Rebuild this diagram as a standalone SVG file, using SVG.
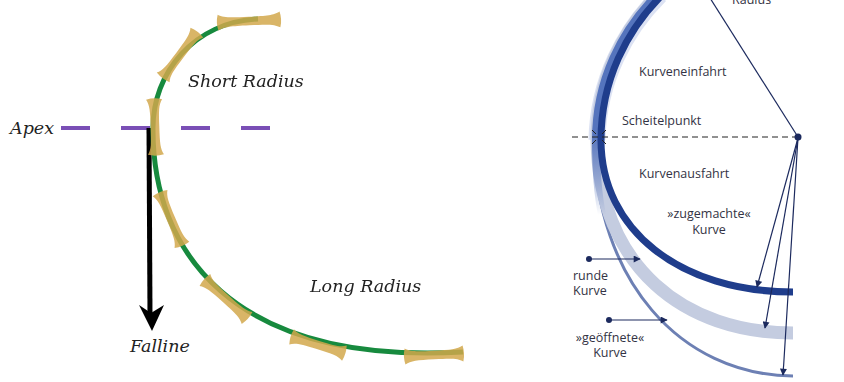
<svg xmlns="http://www.w3.org/2000/svg" xmlns:xlink="http://www.w3.org/1999/xlink" width="844" height="382" viewBox="0 0 844 382">
<style>
.serif{font-family:"DejaVu Serif","Liberation Serif",serif;font-style:italic;font-size:17.5px;fill:#222}
.sans{font-family:"Open Sans","Liberation Sans",sans-serif;font-size:12.5px;fill:#333344}
.bone{fill:#d2a84c;opacity:0.85}
.ptr{stroke:#1c2a5e;stroke-width:1.2;fill:none}
</style>
<defs>
<path id="bone" d="M -20 -8 C -16 -4.5 -12 -4.3 0 -4.3 C 12 -4.3 16 -4.5 20 -8 Q 21.5 0 20 8 C 16 4.5 12 4.3 0 4.3 C -12 4.3 -16 4.5 -20 8 Q -21.5 0 -20 -8 Z"/>
<marker id="ah" viewBox="0 0 10 10" refX="9" refY="5" markerWidth="8" markerHeight="7" markerUnits="userSpaceOnUse" orient="auto">
<path d="M0 0 L10 5 L0 10 Z" fill="#1c2a5e"/>
</marker>
<linearGradient id="fade" gradientUnits="userSpaceOnUse" x1="0" y1="0" x2="0" y2="215">
<stop offset="0.62" stop-color="#5574bd" stop-opacity="1"/>
<stop offset="1" stop-color="#5574bd" stop-opacity="0"/>
</linearGradient>
</defs>

<g id="left-diagram">
<g id="apex-line">
<line x1="61" y1="128" x2="272" y2="128" stroke="#7a4fb6" stroke-width="4" stroke-dasharray="29 31"/>
<text class="serif" x="10" y="134">Apex</text>
</g>
<g id="falline">
<line x1="149" y1="128" x2="150" y2="314" stroke="#000" stroke-width="5"/>
<path d="M152 331 L139 305 L151 313 L164 305 Z" fill="#000"/>
<text class="serif" x="130" y="352">Falline</text>
</g>
<g id="track">
<path d="M258 19 C195 22 152 72 153 130 C153 250 230 365 463 352" fill="none" stroke="#178a3e" stroke-width="5"/>
<g class="bone">
<use xlink:href="#bone" transform="translate(249,21) rotate(-3) scale(1.55,1)"/>
<use xlink:href="#bone" transform="translate(180,55) rotate(127) scale(1.4,1)"/>
<use xlink:href="#bone" transform="translate(155,127) rotate(88) scale(1.38,1)"/>
<use xlink:href="#bone" transform="translate(171,219) rotate(67) scale(1.4,1)"/>
<use xlink:href="#bone" transform="translate(226,299) rotate(42) scale(1.42,1)"/>
<use xlink:href="#bone" transform="translate(318,345) rotate(17) scale(1.38,1)"/>
<use xlink:href="#bone" transform="translate(434,355) rotate(-3) scale(1.45,1)"/>
</g>
</g>
<text class="serif" x="188" y="87">Short Radius</text>
<text class="serif" x="310" y="292">Long Radius</text>
</g>

<g id="right-diagram">
<g id="curves">
<path d="M660 -5 C625 30 598 80 597 140" fill="none" stroke="#cdd6ee" stroke-width="17" opacity="0.7"/>
<path id="geoeffnete" d="M655 -5 C620 30 594 80 594 140 C596 280 680 375 793 376" fill="none" stroke="#6d80b4" stroke-width="3"/>
<path id="runde" d="M658 -5 C623 30 597 80 597 140 C599 268 685 333 793 333" fill="none" stroke="#c4cce0" stroke-width="13"/>
<path d="M657 -5 C622 30 596 80 596 140 C596 170 598 195 602 215" fill="none" stroke="url(#fade)" stroke-width="8"/>
<path id="zugemachte" d="M662 -5 C627 30 601 80 601 140 C601 230 680 292 793 292" fill="none" stroke="#1f3d8c" stroke-width="7"/>
</g>
<g id="apex-marks" stroke="#222" stroke-width="1">
<line x1="572" y1="137" x2="798" y2="137" stroke-dasharray="6 4"/>
<line x1="592" y1="130" x2="596" y2="134"/>
<line x1="606" y1="130" x2="602" y2="134"/>
<line x1="592" y1="144" x2="596" y2="140"/>
<line x1="606" y1="144" x2="602" y2="140"/>
</g>
<g id="connectors">
<line class="ptr" x1="710" y1="-2" x2="798" y2="137"/>
<line class="ptr" x1="798" y1="138" x2="757" y2="287" marker-end="url(#ah)"/>
<line class="ptr" x1="798" y1="138" x2="765" y2="328" marker-end="url(#ah)"/>
<line class="ptr" x1="798" y1="138" x2="783" y2="375" marker-end="url(#ah)"/>
<line class="ptr" x1="589" y1="259" x2="640" y2="259" marker-end="url(#ah)"/>
<line class="ptr" x1="609" y1="320" x2="667" y2="320" marker-end="url(#ah)"/>
<circle cx="798" cy="137" r="3.5" fill="#1c2a5e"/>
<circle cx="589" cy="259" r="3" fill="#1c2a5e"/>
<circle cx="609" cy="320" r="3" fill="#1c2a5e"/>
</g>
<g id="labels">
<text class="sans" x="732" y="4">Radius</text>
<text class="sans" x="639" y="76" font-size="13">Kurveneinfahrt</text>
<text class="sans" x="622" y="125" font-size="13">Scheitelpunkt</text>
<text class="sans" x="639" y="178" font-size="13">Kurvenausfahrt</text>
<text class="sans" x="709" y="218" text-anchor="middle" font-size="13">»zugemachte«</text>
<text class="sans" x="709" y="234" text-anchor="middle" font-size="13">Kurve</text>
<text class="sans" x="573" y="280">runde</text>
<text class="sans" x="573" y="295">Kurve</text>
<text class="sans" x="610" y="342" text-anchor="middle">»geöffnete«</text>
<text class="sans" x="610" y="357" text-anchor="middle">Kurve</text>
</g>
</g>
</svg>
